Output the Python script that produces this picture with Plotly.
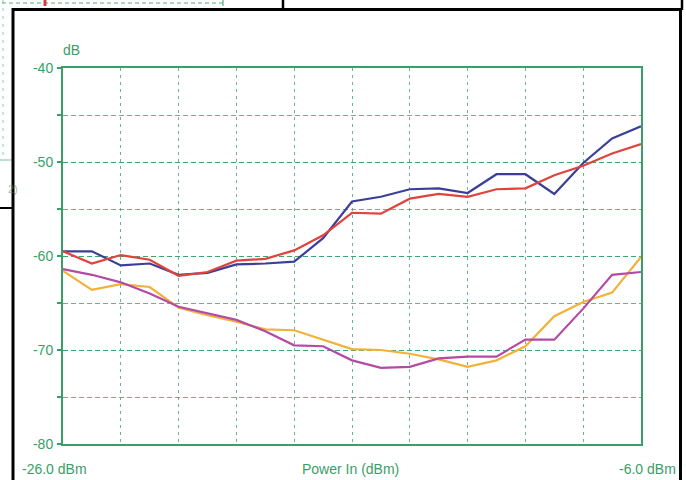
import plotly.graph_objects as go

# ---- data ----
power_in = [-26, -25, -24, -23, -22, -21, -20, -19, -18, -17, -16,
            -15, -14, -13, -12, -11, -10, -9, -8, -7, -6]
blue = [-59.5, -59.5, -61.0, -60.8, -62.0, -61.8, -60.9, -60.8, -60.6, -58.1, -54.2,
        -53.7, -52.9, -52.8, -53.3, -51.3, -51.3, -53.4, -50.1, -47.5, -46.2]
red = [-59.5, -60.8, -59.9, -60.4, -62.1, -61.7, -60.5, -60.3, -59.4, -57.8, -55.4,
       -55.5, -53.9, -53.4, -53.7, -52.9, -52.8, -51.4, -50.4, -49.1, -48.1]
orange = [-61.6, -63.6, -63.0, -63.3, -65.5, -66.3, -67.0, -67.8, -67.9, -68.9, -69.9,
          -70.0, -70.4, -71.0, -71.8, -71.1, -69.6, -66.4, -64.9, -63.9, -60.1]
purple = [-61.4, -62.0, -62.8, -64.0, -65.4, -66.1, -66.8, -68.0, -69.5, -69.6, -71.1,
          -71.9, -71.8, -70.9, -70.7, -70.7, -68.9, -68.9, -65.6, -62.0, -61.7]

y_ticks = [-80, -70, -60, -50, -40]
y_ticktext = ["-80", "-70", "-60", "-50", "-40"]
x_left_label = "-26.0 dBm"
x_right_label = "-6.0 dBm"
x_title = "Power In (dBm)"
y_unit = "dB"

GREEN = "#3a9e68"
GRID = "rgba(50,160,100,0.75)"
FONT = "Liberation Sans"

W, H = 686, 480
L, R, T, B = 63, 641, 68, 444


def px(xp):
    return (xp - L) / (R - L)


def py(yp):
    return (B - yp) / (B - T)


fig = go.Figure()
for vals, col in [(orange, "#f2b23a"), (purple, "#b24aa6"), (blue, "#3c3f98"), (red, "#e0433c")]:
    fig.add_trace(go.Scatter(x=power_in, y=vals, mode="lines",
                             line=dict(color=col, width=2.2), showlegend=False,
                             hoverinfo="skip"))

fig.update_layout(
    width=W, height=H,
    margin=dict(l=L, r=W - R, t=T, b=H - B),
    paper_bgcolor="white", plot_bgcolor="white",
    font=dict(family=FONT, color=GREEN, size=14),
    xaxis=dict(range=[-26, -6], dtick=2, tick0=-26, showticklabels=False,
               showgrid=True, gridcolor=GRID, gridwidth=1.3, griddash="3px,4px",
               showline=True, linecolor=GREEN, linewidth=2, mirror=True,
               zeroline=False, ticks=""),
    yaxis=dict(range=[-80, -40], tickvals=y_ticks, ticktext=y_ticktext,
               showgrid=True, gridcolor=GRID, gridwidth=1.3, griddash="5px,3px",
               showline=True, linecolor=GREEN, linewidth=2, mirror=True,
               zeroline=False, ticks="outside", ticklen=4, tickcolor=GREEN,
               tickwidth=1.5, ticklabelstandoff=1,
               tickfont=dict(size=14, color=GREEN, family=FONT),
               minor=dict(dtick=5, tick0=-80, showgrid=True, gridcolor=GRID,
                          gridwidth=1.3, griddash="5px,3px", ticks="outside",
                          ticklen=4, tickcolor=GREEN)),
)

ann = dict(xref="paper", yref="paper", showarrow=False, borderpad=0,
           font=dict(family=FONT, size=14, color=GREEN))
fig.add_annotation(x=px(62), y=py(41), text=y_unit, **ann)
fig.add_annotation(x=px(21), y=py(460), text=x_left_label, xanchor="left", yanchor="top", **ann)
fig.add_annotation(x=px(350), y=py(460), text=x_title, yanchor="top", **ann)
fig.add_annotation(x=px(677), y=py(460), text=x_right_label, xanchor="right", yanchor="top", **ann)


# background chart remnants (top-left)
def line(x0, y0, x1, y1, color, width=1.5, dash="solid"):
    fig.add_shape(type="line", xref="paper", yref="paper",
                  x0=px(x0), y0=py(y0), x1=px(x1), y1=py(y1),
                  line=dict(color=color, width=width, dash=dash), layer="above")


line(2, 3, 223, 3, "rgba(60,170,110,0.6)", 1.5, "4px,3px")
line(3, 0, 3, 160, "rgba(60,170,110,0.4)", 1.5, "3px,5px")
line(223, 0, 223, 6, "rgba(60,170,110,0.7)", 1.5)
line(0, 160, 12, 160, "rgba(60,170,110,0.6)", 1.2)
line(45, 0, 45, 6, "#d04040", 3)
line(283, 0, 283, 10, "black", 2.5)
line(0, 208, 12, 208, "black", 2)
line(682, 0, 682, 10, "black", 2.5)
fig.add_annotation(x=px(6), y=py(181), text="2)", showarrow=False, xref="paper", yref="paper",
                   font=dict(family=FONT, size=11, color="rgba(90,140,110,0.6)"))

# black frame
fig.add_shape(type="rect", xref="paper", yref="paper",
              x0=px(13), y0=py(482), x1=px(680.5), y1=py(9.5),
              line=dict(color="black", width=3), layer="above")

fig.write_html("out.html", config={"displayModeBar": False},
               post_script="document.body.style.margin='0';document.body.style.overflow='hidden';")
